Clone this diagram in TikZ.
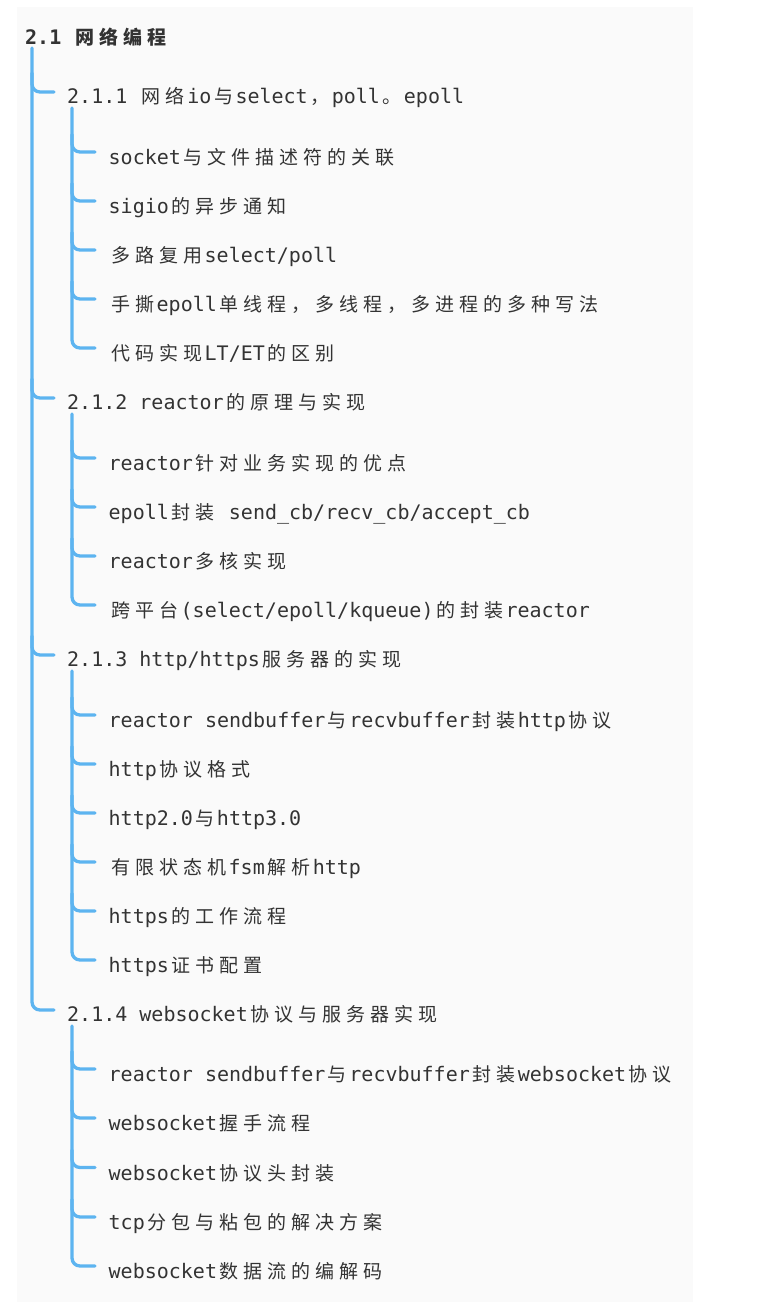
\documentclass[tikz,border=0pt]{standalone}
\usepackage{fontspec}
\setmainfont{DejaVu Sans Mono}
\newfontfamily\cjk{Noto Sans CJK SC}
\usetikzlibrary{calc}
\definecolor{panel}{HTML}{FAFAFA}
\definecolor{branchblue}{HTML}{5DB4F0}
\definecolor{ink}{HTML}{333333}
\newlength\zhw \setlength\zhw{24pt}
\makeatletter
\newcommand\zh[1]{{\cjk\fontsize{19pt}{24pt}\selectfont\@tfor\zhch:=#1\do{\makebox[\zhw]{\zhch}}}}
\makeatother
\tikzset{
  label/.style={inner sep=0pt, anchor=base west, text=ink, font=\fontsize{20pt}{24pt}\selectfont},
  titlelabel/.style={label, font=\fontsize{20pt}{24pt}\selectfont\bfseries},
  conn/.style={draw=branchblue, line width=3.3pt, rounded corners=8pt, line cap=round}
}
\begin{document}
\begin{tikzpicture}[x=1pt,y=-1pt]
\useasboundingbox (0,0) rectangle (759,1312);
\fill[panel] (17,7) rectangle (693,1302);

\node[titlelabel] (t) at (25,44) {2.1 \zh{网络编程}};

\node[label] (h1) at (67,103) {2.1.1 \zh{网络}io\zh{与}select\zh{，}poll\zh{。}epoll};
\node[label] (c11) at (108.5,164.5) {socket\zh{与文件描述符的关联}};
\node[label] (c12) at (108.5,213.5) {sigio\zh{的异步通知}};
\node[label] (c13) at (108.5,262.5) {\zh{多路复用}select/poll};
\node[label] (c14) at (108.5,311.5) {\zh{手撕}epoll\zh{单线程，多线程，多进程的多种写法}};
\node[label] (c15) at (108.5,360.5) {\zh{代码实现}LT/ET\zh{的区别}};

\node[label] (h2) at (67,409) {2.1.2 reactor\zh{的原理与实现}};
\node[label] (c21) at (108.5,470.5) {reactor\zh{针对业务实现的优点}};
\node[label] (c22) at (108.5,519.5) {epoll\zh{封装} send\_cb/recv\_cb/accept\_cb};
\node[label] (c23) at (108.5,568.5) {reactor\zh{多核实现}};
\node[label] (c24) at (108.5,617.5) {\zh{跨平台}(select/epoll/kqueue)\zh{的封装}reactor};

\node[label] (h3) at (67,666) {2.1.3 http/https\zh{服务器的实现}};
\node[label] (c31) at (108.5,727.5) {reactor sendbuffer\zh{与}recvbuffer\zh{封装}http\zh{协议}};
\node[label] (c32) at (108.5,776.5) {http\zh{协议格式}};
\node[label] (c33) at (108.5,825.5) {http2.0\zh{与}http3.0};
\node[label] (c34) at (108.5,874.5) {\zh{有限状态机}fsm\zh{解析}http};
\node[label] (c35) at (108.5,923.5) {https\zh{的工作流程}};
\node[label] (c36) at (108.5,972.5) {https\zh{证书配置}};

\node[label] (h4) at (67,1021) {2.1.4 websocket\zh{协议与服务器实现}};
\node[label] (c41) at (108.5,1081.5) {reactor sendbuffer\zh{与}recvbuffer\zh{封装}websocket\zh{协议}};
\node[label] (c42) at (108.5,1130.5) {websocket\zh{握手流程}};
\node[label] (c43) at (108.5,1180) {websocket\zh{协议头封装}};
\node[label] (c44) at (108.5,1229.5) {tcp\zh{分包与粘包的解决方案}};
\node[label] (c45) at (108.5,1278.5) {websocket\zh{数据流的编解码}};

% level 1
\draw[conn] ($(t.base west)+(7,4)$) |- ($(h4.base west)+(-13,-11)$);
\foreach \n in {h1,h2,h3}
  \draw[conn] ($(\n.base west)+(-35,-30)$) |- ($(\n.base west)+(-13,-11)$);

% level 2 trunks
\draw[conn] ($(h1.base west)+(5,5)$) |- ($(c15.base west)+(-13.5,-12.5)$);
\draw[conn] ($(h2.base west)+(5,5)$) |- ($(c24.base west)+(-13.5,-12.5)$);
\draw[conn] ($(h3.base west)+(5,5)$) |- ($(c36.base west)+(-13.5,-12.5)$);
\draw[conn] ($(h4.base west)+(5,5)$) |- ($(c45.base west)+(-13.5,-12.5)$);

% level 2 branches
\foreach \n in {c11,c12,c13,c14,c21,c22,c23,c31,c32,c33,c34,c35,c41,c42,c43,c44}
  \draw[conn] ($(\n.base west)+(-36.5,-30)$) |- ($(\n.base west)+(-13.5,-12.5)$);
\end{tikzpicture}
\end{document}
